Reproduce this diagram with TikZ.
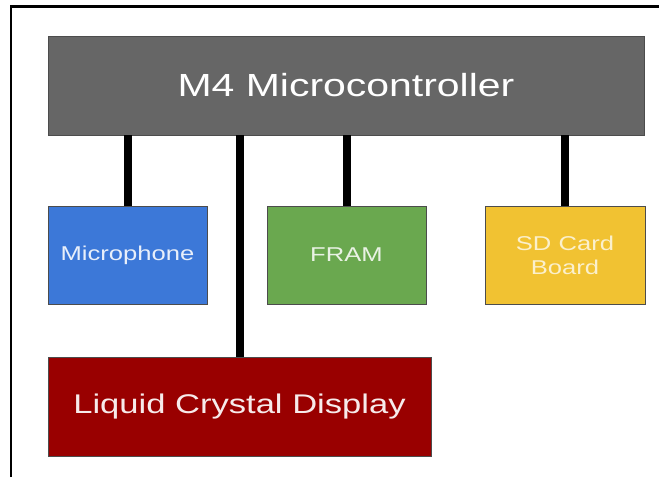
\documentclass[tikz,border=0pt]{standalone}
\usepackage{fontspec}
\setmainfont{Liberation Sans}[FakeStretch=1.28]
\usepackage{tikz}

\definecolor{mcugray}{HTML}{666666}
\definecolor{micblue}{HTML}{3C78D8}
\definecolor{framgreen}{HTML}{6AA84F}
\definecolor{sdyellow}{HTML}{F1C232}
\definecolor{lcdred}{HTML}{990000}

\begin{document}
\begin{tikzpicture}[x=1pt,y=-1pt,
  blk/.style={draw=black!70,line width=0.8pt,inner sep=2pt,align=center,
              minimum height=98pt,font=\fontsize{20}{24}\selectfont},
  part/.style={blk,minimum width=159pt},
  wide/.style={blk,minimum height=99pt},
  link/.style={line width=8pt,draw=black}]

\useasboundingbox (0,0) rectangle (659,477);
\fill[white] (0,0) rectangle (659,477);
\draw[line width=2.4pt] (11,477) -- (11,6.5) -- (659,6.5);

% ---- controller (top) ----
\node[wide,minimum width=596pt,fill=mcugray,text=white,
      font=\fontsize{32}{38}\selectfont] (mcu) at (346,85.5) {M4 Microcontroller};

% ---- peripherals ----
\node[part,fill=micblue,text=white!88!micblue] (mic) at (127.5,255) {Microphone};
\node[part,fill=framgreen,text=white!85!framgreen] (fram) at (346.5,255) {FRAM};
\node[part,minimum width=160pt,fill=sdyellow,text=white!75!sdyellow] (sd) at (565,255) {SD Card\\Board};

% ---- display (bottom) ----
\node[wide,minimum width=383pt,fill=lcdred,text=white!92!lcdred,
      font=\fontsize{27}{32}\selectfont] (lcd) at (239.5,406.5) {Liquid Crystal Display};

\draw[link] (mcu.south -| mic) -- (mic.north);
\draw[link] (mcu.south -| fram) -- (fram.north);
\draw[link] (mcu.south -| sd) -- (sd.north);
\draw[link] (mcu.south -| lcd) -- (lcd.north);
\end{tikzpicture}
\end{document}
